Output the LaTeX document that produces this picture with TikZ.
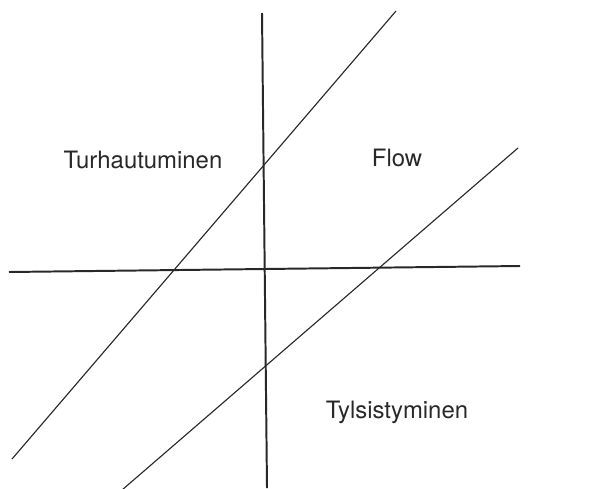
\documentclass[tikz,border=0pt]{standalone}
\usepackage{fontspec}
\setmainfont{TeX Gyre Heros}
\usetikzlibrary{positioning}
\definecolor{SCAN-GREY}{RGB}{40, 40, 40}

\begin{document}
\begin{tikzpicture}[x=0.025cm, y=-0.025cm,
    axis/.style={SCAN-GREY, line width=1.4pt},
    skill/.style={SCAN-GREY, line width=0.8pt},
    zone/.style={SCAN-GREY, font=\fontsize{17}{20}\selectfont, inner sep=0pt}]
  \useasboundingbox (0,0) rectangle (596,488);

  % Axes
  \coordinate (vtop) at (262,13);
  \coordinate (vbot) at (267,488);
  \coordinate (hleft) at (9,272);
  \coordinate (hright) at (520,266);
  \draw[axis] (vtop) -- (vbot);
  \draw[axis] (hleft) -- (hright);

  % Diagonal bands
  \coordinate (d1top) at (396,11);
  \coordinate (d1bot) at (12,459);
  \coordinate (d2top) at (518,148);
  \coordinate (d2bot) at (122,490);
  \draw[skill] (d1bot) -- (d1top);
  \draw[skill] (d2bot) -- (d2top);

  % Zone labels
  \node[zone] (frust) at (143,160) {Turhautuminen};
  \node[zone] (flow) at (397,158) {Flow};
  \node[zone] (bore) at (397,412) {Tylsistyminen};
\end{tikzpicture}
\end{document}
